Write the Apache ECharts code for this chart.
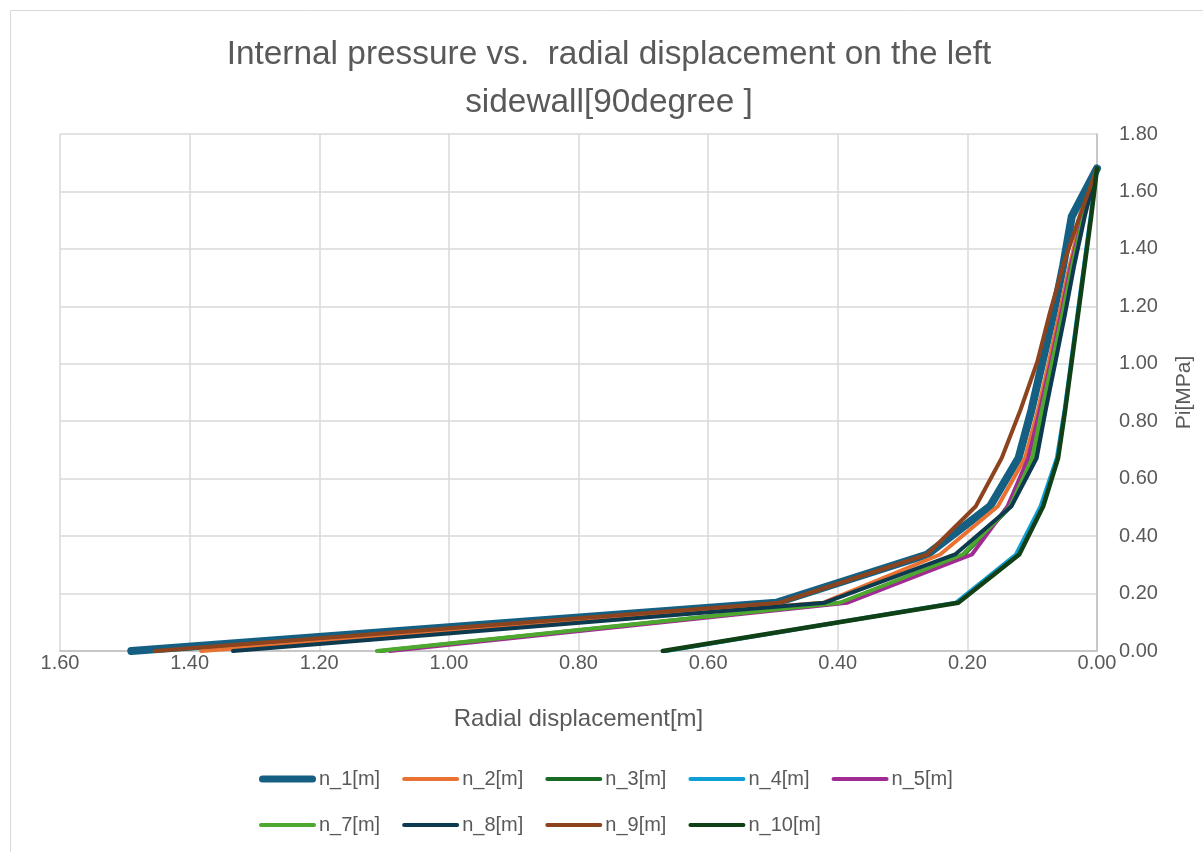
<!DOCTYPE html>
<html>
<head>
<meta charset="utf-8">
<script src="https://cdn.jsdelivr.net/npm/echarts@6/dist/echarts.min.js"></script>
<style>
html,body{margin:0;padding:0;background:#fff;}
#c{width:1203px;height:852px;}
</style>
</head>
<body>
<div id="c"></div>
<script>
// Pressure levels (y values, MPa)
const pressure = [0, 0.168, 0.336, 0.504, 0.672, 0.84, 1.008, 1.176, 1.344, 1.512, 1.68];
// Radial displacement (x values, m) per series
const n1 = [1.490, 0.495, 0.262, 0.165, 0.121, 0.101, 0.084, 0.067, 0.052, 0.039, 0.0];
const n2 = [1.382, 0.423, 0.242, 0.153, 0.111, 0.091, 0.074, 0.058, 0.042, 0.024, 0.0];
const n3 = [1.105, 0.395, 0.205, 0.133, 0.098, 0.083, 0.068, 0.053, 0.038, 0.021, 0.0];
const n4 = [0.665, 0.218, 0.125, 0.087, 0.062, 0.050, 0.040, 0.030, 0.020, 0.010, 0.0];
const n5 = [1.091, 0.385, 0.193, 0.138, 0.106, 0.088, 0.071, 0.055, 0.040, 0.022, 0.0];
const n7 = [1.111, 0.397, 0.207, 0.134, 0.100, 0.085, 0.069, 0.053, 0.038, 0.021, 0.0];
const n8 = [1.333, 0.420, 0.219, 0.132, 0.093, 0.079, 0.064, 0.049, 0.035, 0.019, 0.0];
const n9 = [1.454, 0.490, 0.262, 0.187, 0.147, 0.118, 0.092, 0.073, 0.052, 0.027, 0.0];
const n10 = [0.670, 0.214, 0.120, 0.083, 0.060, 0.049, 0.039, 0.029, 0.019, 0.009, 0.0];

const seriesNames = ['n_1[m]','n_2[m]','n_3[m]','n_4[m]','n_5[m]','n_7[m]','n_8[m]','n_9[m]','n_10[m]'];
const seriesValues = [n1, n2, n3, n4, n5, n7, n8, n9, n10];
const xTicks = ['0.00','0.20','0.40','0.60','0.80','1.00','1.20','1.40','1.60'];
const yTicks = ['0.00','0.20','0.40','0.60','0.80','1.00','1.20','1.40','1.60','1.80'];
const titleText = 'Internal pressure vs.  radial displacement on the left\nsidewall[90degree ]';

const colors = ['#156082','#E97132','#196B24','#0F9ED5','#A02B93','#4EA72E','#0D3A4E','#8C441E','#0F4016'];
const widths = [8,4,4,4,4,4,4,4,4.5];

const FONT = '"Liberation Sans", Arial, sans-serif';
const chart = echarts.init(document.getElementById('c'), null, {renderer:'canvas'});

function pill(w, h) {
  const r = h / 2;
  return 'path://M' + r + ',0 H' + (w - r) + ' A' + r + ',' + r + ' 0 0 1 ' + (w - r) + ',' + h +
         ' H' + r + ' A' + r + ',' + r + ' 0 0 1 ' + r + ',0 Z';
}

const series = seriesNames.map((name, k) => ({
  name: name,
  type: 'line',
  symbol: 'none',
  animation: false,
  color: colors[k],
  lineStyle: {color: colors[k], width: widths[k], cap: 'round', join: 'round'},
  data: seriesValues[k].map((x, i) => [x, pressure[i]])
}));

chart.setOption({
  backgroundColor: '#fff',
  animation: false,
  color: colors,
  graphic: [{
    type: 'rect', left: 8, top: 8, z: -10,
    shape: {width: 1210, height: 860},
    style: {fill: 'none', stroke: '#d9d9d9', lineWidth: 1}
  }, {
    type: 'text', x: 609, y: 31, z: 10,
    style: {
      text: titleText, fill: '#595959', font: '33.4px ' + FONT,
      fontSize: 33.4, fontFamily: FONT, lineHeight: 48,
      align: 'center', verticalAlign: 'top'
    }
  }],
  legend: {
    left: 259, top: 767, width: 730, padding: 0,
    itemWidth: 57, itemHeight: 14, itemGap: 22,
    textStyle: {fontFamily: FONT, fontSize: 20, lineHeight: 24, color: '#595959', padding: [0,0,0,-2]},
    data: seriesNames.map((name, k) => ({
      name: name,
      icon: pill(57, k === 0 ? 7 : 4),
      itemStyle: {color: colors[k]}
    }))
  },
  grid: {left: 60, right: 106, top: 134, bottom: 201, containLabel: false},
  xAxis: {
    type: 'value', inverse: true, min: 0, max: 1.6, interval: 0.2,
    position: 'bottom',
    name: 'Radial displacement[m]', nameLocation: 'middle', nameGap: 56,
    nameTextStyle: {fontFamily: FONT, fontSize: 24, color: '#595959'},
    axisLine: {show: true, lineStyle: {color: '#bfbfbf', width: 1.5}},
    axisTick: {show: false},
    axisLabel: {fontFamily: FONT, fontSize: 20, color: '#595959', margin: 2,
      formatter: v => xTicks[Math.round(v / 0.2)]},
    splitLine: {show: true, lineStyle: {color: '#d9d9d9', width: 1.5}}
  },
  yAxis: {
    type: 'value', min: 0, max: 1.8, interval: 0.2,
    position: 'right',
    name: 'Pi[MPa]', nameLocation: 'middle', nameGap: 77, nameRotate: 90,
    nameTextStyle: {fontFamily: FONT, fontSize: 21, color: '#595959'},
    axisLine: {show: true, lineStyle: {color: '#bfbfbf', width: 1.5}},
    axisTick: {show: false},
    axisLabel: {fontFamily: FONT, fontSize: 20, color: '#595959', margin: 22,
      formatter: v => yTicks[Math.round(v / 0.2)]},
    splitLine: {show: true, lineStyle: {color: '#d9d9d9', width: 1.5}}
  },
  series: series
});
</script>
</body>
</html>
